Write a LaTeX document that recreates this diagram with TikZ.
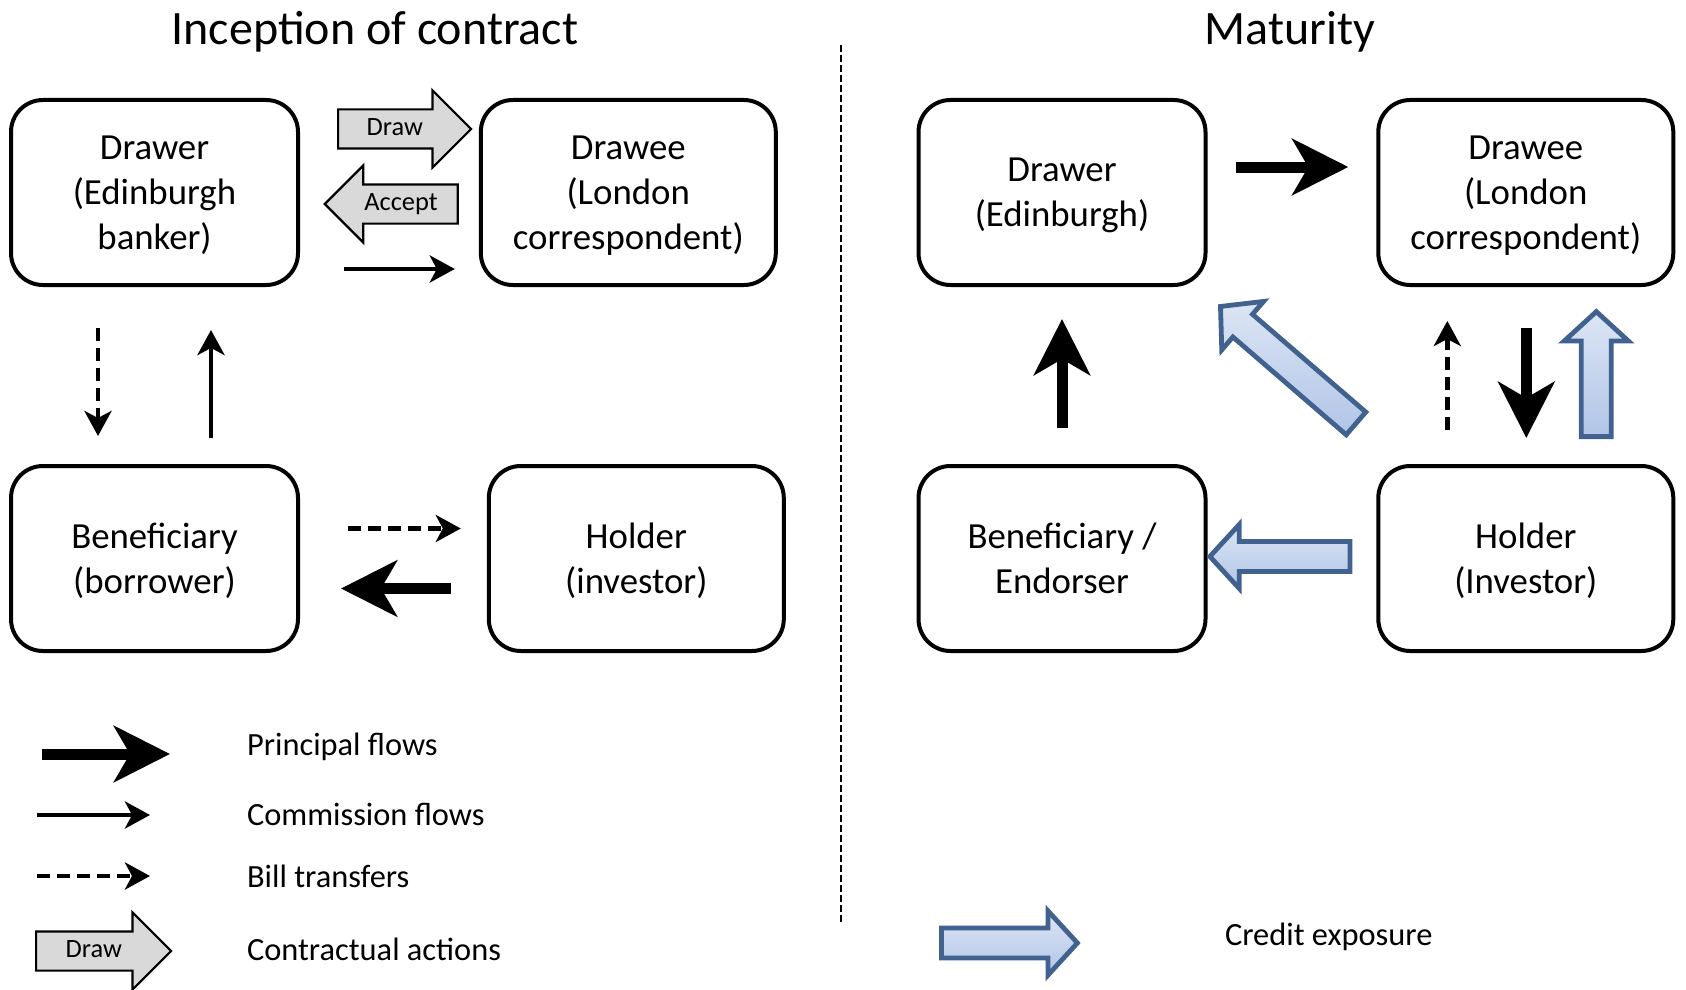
\documentclass[tikz,border=0pt]{standalone}
\usepackage{fontspec}
\setmainfont{Carlito}
\usepackage{tikz}
\usetikzlibrary{arrows.meta,shapes,positioning,calc}

\definecolor{creditline}{HTML}{41628F}
\definecolor{creditA}{HTML}{DCE5F4}
\definecolor{creditB}{HTML}{B1C5E7}
\definecolor{actiongray}{HTML}{D9D9D9}

\tikzset{
  party/.style={draw, rectangle, rounded corners=16pt, line width=2pt, align=center,
    minimum width=143.5pt, minimum height=92.5pt, text depth=0pt,
    font=\fontsize{18.4}{22.6}\selectfont},
  wide/.style={minimum width=147.5pt},
  principal/.style={line width=5.5pt, -{Stealth[length=28pt,width=28pt,inset=8pt]}},
  commission/.style={line width=2.3pt, -{Stealth[length=12.5pt,width=13.5pt,inset=3.5pt]}},
  bill/.style={commission, dash pattern=on 6.5pt off 3.5pt},
  action/.style={single arrow, draw, fill=actiongray, line width=1.1pt, anchor=tail,
    single arrow head extend=9.5pt, text height=8pt, text depth=2pt, inner ysep=4.25pt,
    inner xsep=2pt, minimum height=66.5pt, font=\fontsize{13.2}{15}\selectfont},
  credit/.style={single arrow, draw=creditline, top color=creditA, bottom color=creditB,
    line width=2.4pt, anchor=tail, single arrow head extend=8.5pt, single arrow tip angle=95,
    text height=0pt, text depth=0pt, inner ysep=6.3pt, inner xsep=0pt},
  legend/.style={anchor=base west, font=\fontsize{16.2}{19}\selectfont},
  heading/.style={anchor=base, font=\fontsize{24}{28}\selectfont}
}

\begin{document}
\begin{tikzpicture}[x=0.5pt,y=-0.5pt]
  \useasboundingbox (0,0) rectangle (1686,990);

  \node[heading] (inception) at (375,45) {Inception of contract};
  \node[heading] (maturity) at (1290,45) {Maturity};

  \coordinate (sep0) at (841,45);
  \coordinate (sep1) at (841,923);
  \draw[line width=1.2pt, dash pattern=on 3.5pt off 1.5pt] (sep0) -- (sep1);

  % inception of contract
  \node[party] at (154.5,192.5) (drawerL) {Drawer\\(Edinburgh\\banker)};
  \node[party, wide, right=89.4pt of drawerL] (draweeL) {Drawee\\(London\\correspondent)};
  \node[party, below=88.5pt of drawerL] (benefL) {Beneficiary\\(borrower)};
  \node[party, wide, right=93.4pt of benefL] (holderL) {Holder\\(investor)};

  \node[action] at ($(drawerL.east)+(37,-63.5)$) (draw) {Draw};
  \node[action, shape border rotate=180] at ($(draweeL.west)+(-20,11.5)$) (accept) {Accept};
  \draw[commission] ($(drawerL.east)+(44,76.5)$) -- ($(draweeL.west)+(-24,76.5)$);
  \draw[bill] ($(drawerL.south)+(-56.5,41)$) -- ($(benefL.north)+(-56.5,-28)$);
  \draw[commission] ($(benefL.north)+(56.5,-26)$) -- ($(drawerL.south)+(56.5,43)$);
  \draw[bill] ($(benefL.east)+(48,-30)$) -- ($(holderL.west)+(-26,-30)$);
  \draw[principal] ($(holderL.west)+(-36,30)$) -- ($(benefL.east)+(41,30)$);

  % maturity
  \node[party] at (1062,192.5) (drawerR) {Drawer\\(Edinburgh)};
  \node[party, wide, right=84.4pt of drawerR] (draweeR) {Drawee\\(London\\correspondent)};
  \node[party, below=88.5pt of drawerR] (endorser) {Beneficiary /\\Endorser};
  \node[party, wide, right=84.4pt of endorser] (holderR) {Holder\\(Investor)};

  \draw[principal] ($(drawerR.east)+(28,-25.5)$) -- ($(draweeR.west)+(-28,-25.5)$);
  \draw[principal] ($(endorser.north)+(0,-36)$) -- ($(drawerR.south)+(0,32)$);
  \draw[bill] ($(holderR.north)+(-78.5,-34)$) -- ($(draweeR.south)+(-78.5,34)$);
  \draw[principal] ($(draweeR.south)+(0.5,41)$) -- ($(holderR.north)+(0.5,-26)$);
  \node[credit, rotate=90, minimum height=62.5pt] at ($(holderR.north)+(70.5,-25)$) (creditup) {};
  \node[credit, rotate=139.2, minimum height=89.5pt] at ($(holderR.north)+(-168,-39)$) (creditdiag) {};
  \node[credit, rotate=180, minimum height=70pt] at ($(holderR.west)+(-24,-2)$) (creditleft) {};

  % legend
  \coordinate (pf0) at (42,754);
  \coordinate (pf1) at (170,754);
  \coordinate (cf0) at (37,815);
  \coordinate (cf1) at (150,815);
  \coordinate (bt0) at (37,876);
  \coordinate (bt1) at (150,876);
  \draw[principal] (pf0) -- (pf1);
  \draw[commission] (cf0) -- (cf1);
  \draw[bill] (bt0) -- (bt1);
  \node[action, minimum height=67.5pt] at (35,951) (drawkey) {Draw};
  \node[credit, minimum height=68pt] at (939,943) (creditkey) {};

  \node[legend] at (240,755) (pftext) {Principal flows};
  \node[legend] at (240,825) (cftext) {Commission flows};
  \node[legend] at (240,887) (bttext) {Bill transfers};
  \node[legend] at (240,960) (catext) {Contractual actions};
  \node[legend] at (1218,945) (cetext) {Credit exposure};
\end{tikzpicture}
\end{document}
